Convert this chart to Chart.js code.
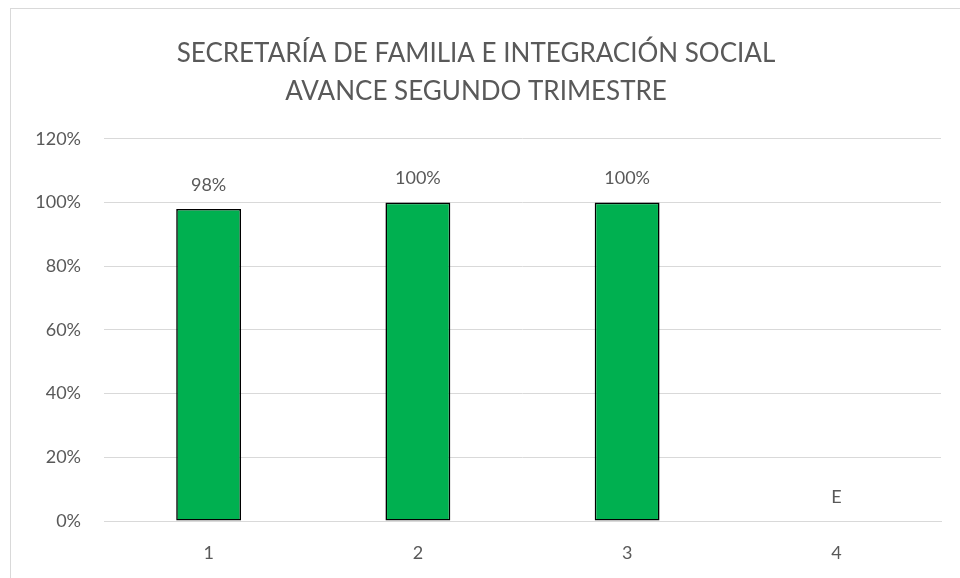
<!DOCTYPE html>
<html>
<head>
<meta charset="utf-8">
<script src="https://cdn.jsdelivr.net/npm/chart.js@4"></script>
<style>
  html, body { margin: 0; padding: 0; background: #fff; }
  #wrap { position: relative; width: 960px; height: 578px; overflow: hidden; }
  #frame { position: absolute; left: 10px; top: 8px; width: 1000px; height: 1000px; border: 1px solid #d9d9d9; box-sizing: border-box; }
  canvas { position: absolute; left: 0; top: 0; }
</style>
</head>
<body>
<div id="wrap">
  <div id="frame"></div>
  <canvas id="myChart" width="960" height="578"></canvas>
</div>
<script>
// chart data
const categories = ['1', '2', '3', '4'];
const avance = [0.98, 1.00, 1.00, null];
const valueLabels = ['98%', '100%', '100%', 'E'];
const titleLines = ['SECRETARÍA DE FAMILIA E INTEGRACIÓN SOCIAL', 'AVANCE SEGUNDO TRIMESTRE'];

const textColor = '#595959';
const fontName = 'Lato, "Open Sans", sans-serif';

// draw the labels above the bars (the 4th one has no value, label sits on the 0 line)
const barLabels = {
    id: 'barLabels',
    afterDatasetsDraw(chart) {
        const ctx = chart.ctx;
        const meta = chart.getDatasetMeta(0);
        const yScale = chart.scales.y;
        ctx.save();
        ctx.font = '18px ' + fontName;
        ctx.fillStyle = textColor;
        ctx.textAlign = 'center';
        ctx.textBaseline = 'middle';
        meta.data.forEach((bar, i) => {
            const v = avance[i];
            const top = yScale.getPixelForValue(v == null ? 0 : v);
            ctx.fillText(valueLabels[i], bar.x, top - 24);
        });
        ctx.restore();
    }
};

let ctx = document.getElementById('myChart').getContext('2d');
let chartJS = new Chart(ctx, {
    type: 'bar',
    data: {
        labels: categories,
        datasets: [{
            label: 'Avance',
            data: avance,
            backgroundColor: '#00B050',
            borderColor: '#000000',
            borderWidth: 1.6,
            borderSkipped: false,
            barPercentage: 0.62,
            categoryPercentage: 0.5
        }]
    },
    options: {
        responsive: false,
        animation: false,
        layout: { padding: { left: 11, right: 19, top: 9, bottom: 0 } },
        plugins: {
            legend: { display: false },
            tooltip: { enabled: false },
            title: {
                display: true,
                text: titleLines,
                color: textColor,
                font: { family: fontName, size: 26, weight: '400', lineHeight: 1.46 },
                padding: { top: 26, bottom: 28 }
            }
        },
        scales: {
            x: {
                grid: { display: false, drawTicks: false },
                border: { display: true, color: '#d9d9d9', width: 1 },
                ticks: { color: textColor, font: { family: fontName, size: 18 }, padding: 21 },
                afterFit: (scale) => { scale.height = 57; }
            },
            y: {
                min: 0,
                max: 1.2,
                ticks: {
                    stepSize: 0.2,
                    color: textColor,
                    font: { family: fontName, size: 18 },
                    padding: 23,
                    callback: (v) => Math.round(v * 100) + '%'
                },
                grid: { color: '#d9d9d9', lineWidth: 1, drawTicks: false },
                border: { display: false },
                afterFit: (scale) => { scale.width = 93; }
            }
        }
    },
    plugins: [barLabels]
});
</script>
</body>
</html>
